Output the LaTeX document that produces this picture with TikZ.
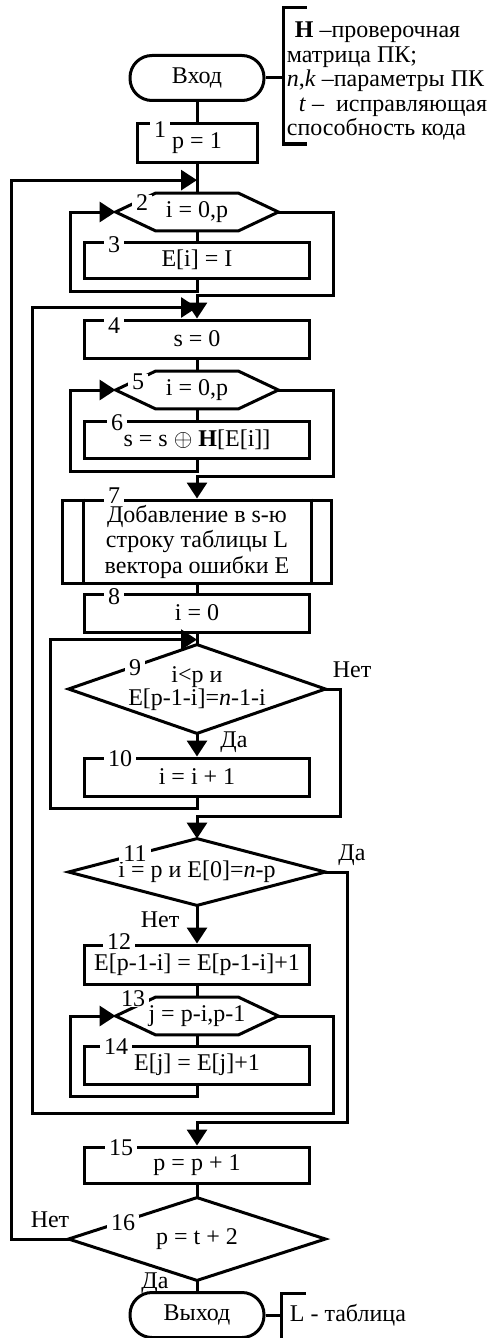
\documentclass[tikz,border=0pt]{standalone}
\usepackage{fontspec}
\setmainfont{Liberation Serif}
\usetikzlibrary{arrows.meta,calc}

\begin{document}
\begin{tikzpicture}[x=0.5pt,y=-0.5pt,font=\fontsize{12}{12}\selectfont,
	ln/.style={line width=1.5pt},
	arr/.style={line width=1.5pt,-{Triangle[length=8pt,width=10pt]}},
	term/.style={draw,line width=1.5pt,rounded corners=11pt,minimum width=67pt,minimum height=22.5pt,inner sep=0pt},
	box/.style={draw,line width=1.5pt,minimum width=112.5pt,minimum height=19pt,inner sep=0pt},
	hexa/.style={minimum width=81pt,minimum height=18.5pt,inner sep=0pt},
	rhomb/.style={minimum width=128pt,inner sep=0pt,align=center},
	num/.style={fill=white,inner xsep=2pt,inner ysep=0pt},
	lbl/.style={inner sep=0pt}]
	\useasboundingbox (0,0) rectangle (493,1338);
	% Blocks
	\node[term] (start) at (197,78) {Вход};
	\node[box,minimum width=60pt] (b1) at (197,143) {\raisebox{-1.5pt}{p = 1}};
	\node[hexa] (h2) at (197,212) {i = 0,p};
	\node[box,minimum height=18pt] (b3) at (197,260) {E[i] = I};
	\node[box] (b4) at (197,339) {s = 0};
	\node[hexa] (h5) at (197,390) {i = 0,p};
	\node[box,minimum height=18.5pt] (b6) at (197,440) {s = s $\oplus$ \textbf{H}[E[i]]};
	\node[box,minimum width=134.5pt,minimum height=41.5pt,align=center,font=\fontsize{12}{12.75}\selectfont] (b7) at (197,541.5) {Добавление в s-ю\\строку таблицы L\\вектора ошибки E};
	\node[box] (b8) at (197,613) {i = 0};
	\node[rhomb,minimum height=44pt,font=\fontsize{12}{11.5}\selectfont] (d9) at (197,689) {i<p и\\E[p-1-i]=\textit{n}-1-i};
	\node[box] (b10) at (197,777) {i = i + 1};
	\node[rhomb,minimum height=33pt] (d11) at (197,872) {\raisebox{-2pt}{i = p и E[0]=\textit{n}-p}};
	\node[box,minimum height=19.5pt] (b12) at (197,964.5) {\raisebox{-1pt}{E[p-1-i] = E[p-1-i]+1}};
	\node[hexa] (h13) at (197,1016) {j = p-i,p-1};
	\node[box] (b14) at (197,1065) {E[j] = E[j]+1};
	\node[box,minimum height=18pt] (b15) at (197,1165) {\raisebox{-1.5pt}{p = p + 1}};
	\node[rhomb,minimum height=41pt] (d16) at (197,1239) {p = t + 2};
	\node[term] (stop) at (197,1315) {Выход};
	% Outlines
	\foreach \h in {h2,h5,h13}
		\draw[ln] (\h.west) -- ($(\h.north west)+(40,0)$) -- ($(\h.north east)+(-40,0)$) -- (\h.east) -- ($(\h.south east)+(-40,0)$) -- ($(\h.south west)+(40,0)$) -- cycle;
	\foreach \d in {d9,d11,d16}
		\draw[ln] (\d.north) -- (\d.east) -- (\d.south) -- (\d.west) -- cycle;
	\draw[ln] ($(b7.north west)+(22,0)$) -- ($(b7.south west)+(22,0)$);
	\draw[ln] ($(b7.north east)+(-22,0)$) -- ($(b7.south east)+(-22,0)$);
	% Flow
	\coordinate (j1) at ($(h2.north)+(0,-13)$);
	\coordinate (j4) at ($(b4.north)+(0,-11)$);
	\coordinate (j9) at ($(d9.north)+(0,-5)$);
	\draw[ln] (start.south) -- (b1.north);
	\draw[ln] (b1.south) -- (h2.north);
	\draw[ln] (h2.south) -- (b3.north);
	\draw[arr] (b3.south) -- ++(0,12) -| ($(h2.west)+(-45,0)$) -- (h2.west);
	\draw[arr] (h2.east) -- ++(55,0) |- ($(b4.north)+(0,-23)$) -- (b4.north);
	\draw[ln] (b4.south) -- (h5.north);
	\draw[ln] (h5.south) -- (b6.north);
	\draw[arr] (b6.south) -- ++(0,11) -| ($(h5.west)+(-45,0)$) -- (h5.west);
	\draw[arr] (h5.east) -- ++(55,0) |- ($(b7.north)+(0,-22)$) -- (b7.north);
	\draw[ln] (b7.south) -- (b8.north);
	\draw[ln] (b8.south) -- (d9.north);
	\draw[arr] (d9.south) -- (b10.north);
	\draw[arr] (b10.south) -- ++(0,11) -| ($(j9)+(-147,0)$) -- (j9);
	\draw[arr] (d9.east) -- ++(15,0) |- ($(d11.north)+(0,-22)$) -- (d11.north);
	\draw[arr] (d11.south) -- (b12.north);
	\draw[arr] (d11.east) -- ++(22,0) |- ($(b15.north)+(0,-23)$) -- (b15.north);
	\draw[ln] (b12.south) -- (h13.north);
	\draw[ln] (h13.south) -- (b14.north);
	\draw[arr] (b14.south) -- ++(0,11) -| ($(h13.west)+(-45,0)$) -- (h13.west);
	\draw[arr] (h13.east) -- ++(55,0) |- ($(b14.south)+(-165,28)$) |- (j4);
	\draw[ln] (b15.south) -- (d16.north);
	\draw[arr] (d16.west) -- ++(-57,0) |- (j1);
	\draw[ln] (d16.south) -- (stop.north);
	% Comments
	\draw[ln] (start.east) -- ++(18,0) coordinate (br1);
	\draw[ln] ($(br1)+(23,-70)$) -- ($(br1)+(0,-70)$) -- ($(br1)+(0,66)$) -- ($(br1)+(23,66)$);
	\node[lbl,anchor=west,align=left,font=\fontsize{12}{12.25}\selectfont] (note1) at ($(br1)+(3,3)$) {\hspace*{4pt}\textbf{H} –проверочная\\матрица ПК;\\\textit{n},\textit{k} –параметры ПК\\\hspace*{6pt}\textit{t} –\ \ исправляющая\\способность кода};
	\draw[ln] (stop.east) -- ++(16,0) coordinate (br2);
	\draw[ln] ($(br2)+(24,-22)$) -- ($(br2)+(0,-22)$) -- ($(br2)+(0,30)$);
	\node[lbl,anchor=west] (note2) at ($(br2)+(8,0)$) {L - таблица};
	%Labels
	\node[num] (n1) at (160,130) {1};
	\node[num] (n2) at (142,203) {2};
	\node[num] (n3) at (114,245) {3};
	\node[num] (n4) at (114,326) {4};
	\node[num] (n5) at (138,382) {5};
	\node[num] (n6) at (117,423) {6};
	\node[num] (n7) at (114,496) {7};
	\node[num] (n8) at (114,597) {8};
	\node[num] (n9) at (135,668) {9};
	\node[num] (n10) at (120,759) {10};
	\node[num] (n11) at (135,854) {11};
	\node[num] (n12) at (119,942) {12};
	\node[num] (n13) at (133,999) {13};
	\node[num] (n14) at (116,1047) {14};
	\node[num] (n15) at (121,1148) {15};
	\node[num] (n16) at (123,1223) {16};
	\node[lbl] (no9) at (352,670) {Нет};
	\node[lbl] (yes9) at (234,742) {Да};
	\node[lbl] (yes11) at (352,855) {Да};
	\node[lbl] (no11) at (160,920) {Нет};
	\node[lbl] (no16) at (50,1220) {Нет};
	\node[lbl] (yes16) at (155,1283) {Да};
\end{tikzpicture}
\end{document}
